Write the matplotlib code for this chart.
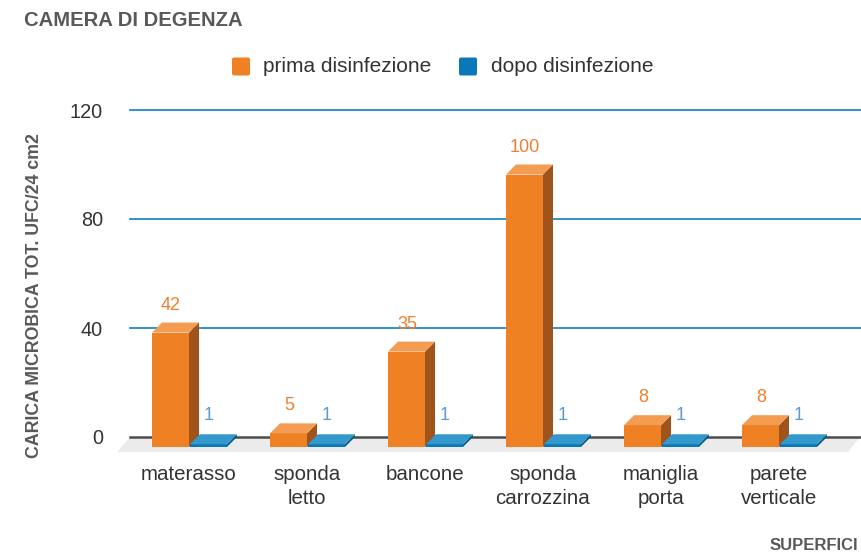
import matplotlib
matplotlib.use("Agg")
import matplotlib.pyplot as plt
from matplotlib.patches import Polygon, FancyBboxPatch

plt.rcParams['font.family'] = ['Liberation Sans', 'DejaVu Sans']

# ---------------- data ----------------
categories = ["materasso", "sponda\nletto", "bancone", "sponda\ncarrozzina",
              "maniglia\nporta", "parete\nverticale"]
prima = [42, 5, 35, 100, 8, 8]
dopo = [1, 1, 1, 1, 1, 1]
yticks = [0, 40, 80, 120]
series_names = ["prima disinfezione", "dopo disinfezione"]
title = "CAMERA DI DEGENZA"
ylabel = "CARICA MICROBICA TOT. UFC/24 cm2"
xlabel = "SUPERFICI"

# ---------------- style ----------------
orange = dict(front="#F08024", top="#F39C52", side="#A0531A", text="#F08030")
blue = dict(front="#0A77B8", top="#3399CC", side="#0B5A8C", text="#5B9BD5")
grey_text = "#595959"
grid_col = "#1E8BCB"

W, H = 861, 557
fig = plt.figure(figsize=(W / 100, H / 100), dpi=100)

# main axes placed in pixel terms
L, R, T, B = 110, 861, 100, 462
ax = fig.add_axes([L / W, 1 - B / H, (R - L) / W, (B - T) / H])
ax.patch.set_visible(False)
cx0, cstep = 189, 118          # px of first category, px per category
y0px, ppu = 437, 109 / 40      # px of zero, px per unit
ax.set_xlim((L - cx0) / cstep, (R - cx0) / cstep)
ax.set_ylim(-(B - y0px) / ppu, (y0px - T) / ppu)
for s in ax.spines.values():
    s.set_visible(False)

dx = 10 / cstep
dy = 10 / ppu
bw = 37 / cstep
gx0 = (130 - cx0) / cstep
xr = ax.get_xlim()[1] + 0.2

# floor
fb = -15 / ppu
floor = Polygon([(gx0, 0), ((860 - cx0) / cstep, 0),
                 ((848 - cx0) / cstep, fb), ((117 - cx0) / cstep, fb)],
                closed=True, facecolor="#EBEBEB", edgecolor="none", zorder=0)
ax.add_patch(floor)

# gridlines
for t in yticks[1:]:
    ax.plot([gx0, xr], [t, t], color=grid_col, lw=1.3, zorder=1, clip_on=False)
ax.plot([gx0, xr], [0, 0], color="#4D4D4D", lw=1.8, zorder=1, clip_on=False)


def bar3d(x0, v, col, z):
    x1 = x0 + bw
    front = Polygon([(x0, -dy), (x1, -dy), (x1, v - dy), (x0, v - dy)],
                    closed=True, facecolor=col["front"], edgecolor="none", zorder=z)
    top = Polygon([(x0, v - dy), (x1, v - dy), (x1 + dx, v), (x0 + dx, v)],
                  closed=True, facecolor=col["top"], edgecolor="none", zorder=z)
    side = Polygon([(x1, -dy), (x1 + dx, 0), (x1 + dx, v), (x1, v - dy)],
                   closed=True, facecolor=col["side"], edgecolor="none", zorder=z)
    for p in (side, front, top):
        ax.add_patch(p)


for i, (a, b) in enumerate(zip(prima, dopo)):
    bar3d(i - bw, a, orange, 3 + 2 * i)
    bar3d(i + 0.008, b, blue, 4 + 2 * i)
    ax.text(i - bw / 2 + 0.005, a + 17.5 / ppu, str(a), ha="center", va="center",
            fontsize=13, color=orange["text"], zorder=20)
    ax.text(i + 0.008 + bw / 2, b + 18.5 / ppu, str(b), ha="center", va="center",
            fontsize=13, color=blue["text"], zorder=20)

# ticks
ax.set_yticks(yticks)
ax.set_yticklabels([str(t) for t in yticks])
ax.set_xticks(range(len(categories)))
ax.set_xticklabels(categories, linespacing=1.3)
ax.tick_params(axis="y", length=0, pad=5, labelsize=14.3, labelcolor="#333333")
ax.tick_params(axis="x", length=0, pad=2.5, labelsize=14.8, labelcolor="#333333")

# overlay for titles and legend (pixel coords)
ov = fig.add_axes([0, 0, 1, 1], zorder=10)
ov.set_xlim(0, W)
ov.set_ylim(H, 0)
ov.axis("off")
ov.patch.set_visible(False)

ov.text(24, 21, title, ha="left", va="center", fontsize=14.6,
        fontweight="bold", color=grey_text)
ov.text(35, 296, ylabel, ha="center", va="center", rotation=90,
        fontsize=12.8, fontweight="bold", color=grey_text)
ov.text(770, 545, xlabel, ha="left", va="center", fontsize=12,
        fontweight="bold", color=grey_text)

leg = [(232, orange["front"], 263, series_names[0]),
       (459, blue["front"], 491, series_names[1])]
for sx, c, tx, name in leg:
    ov.add_patch(FancyBboxPatch((sx, 57.5), 18, 18,
                                boxstyle="round,pad=0,rounding_size=2",
                                facecolor=c, edgecolor="none"))
    ov.text(tx, 67, name, ha="left", va="center", fontsize=15,
            color="#333333")

fig.savefig("out.png", dpi=100)
